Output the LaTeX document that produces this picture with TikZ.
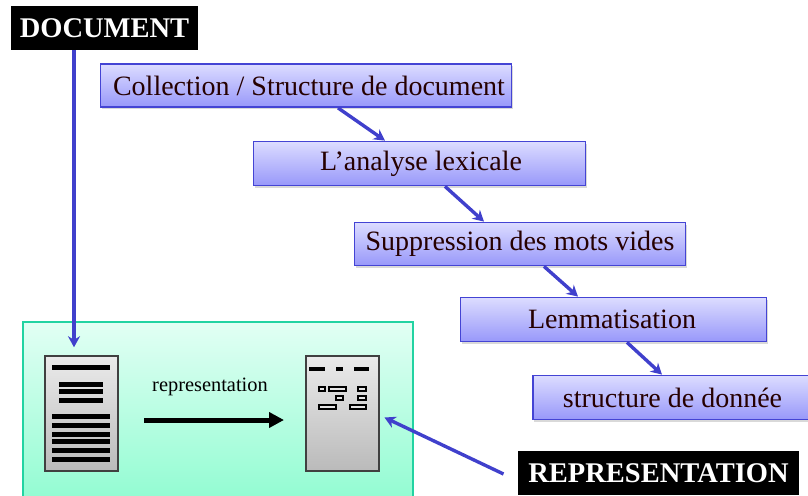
\documentclass[tikz,border=0pt]{standalone}
\usepackage{fontspec}
\setmainfont{Liberation Serif}
\usetikzlibrary{arrows.meta,shadows}
\definecolor{stepline}{HTML}{4444D4}
\definecolor{steptop}{HTML}{DCDCFF}
\definecolor{stepbottom}{HTML}{9898FA}
\definecolor{linkblue}{HTML}{4040CC}
\definecolor{panelline}{HTML}{22D3A2}
\definecolor{paneltop}{HTML}{E2FFF4}
\definecolor{panelbottom}{HTML}{92FCD2}
\tikzset{
	stepbox/.style={draw=stepline,line width=1.8pt,top color=steptop,bottom color=stepbottom,
		inner sep=0pt,font=\fontsize{28}{32}\selectfont,text=black!85!red,
		drop shadow={shadow xshift=1pt,shadow yshift=-2pt,opacity=0.3}},
	titlebox/.style={fill=black,text=white,inner sep=0pt,font=\fontsize{28.5}{32}\selectfont\bfseries},
	pagebox/.style={draw=black!75,line width=1.5pt,top color=black!8,bottom color=black!27,inner sep=0pt,
		minimum width=73pt,minimum height=115pt,
		drop shadow={shadow xshift=1pt,shadow yshift=-1pt,opacity=0.25}},
	link/.style={linkblue,line width=3.4pt,-{Stealth[length=11pt,width=12pt]}},
	bar/.style={black,line width=5pt},
	slot/.style={draw=black,line width=1.3pt,fill=black!10}
}
\begin{document}
\begin{tikzpicture}[x=1pt,y=-1pt]
	\clip (0,0) rectangle (808,495);
	\node[draw=panelline,line width=1.5pt,top color=paneltop,bottom color=panelbottom,inner sep=0pt,
		minimum width=390pt,minimum height=178pt] (panel) at (218,411) {};
	% steps
	\node[stepbox,minimum width=411pt,minimum height=43pt] (coll) at (306,85.5) {\hspace*{6pt}Collection / Structure de document};
	\node[stepbox,minimum width=332pt,minimum height=44pt] (lex) at (419.5,163.5) {\hspace*{3pt}L’analyse lexicale};
	\node[stepbox,minimum width=331pt,minimum height=43pt] (stop) at (520,244) {Suppression des mots vides};
	\node[stepbox,minimum width=306pt,minimum height=44pt] (lemma) at (613.5,319.5) {Lemmatisation\hspace*{3pt}};
	\node[stepbox,minimum width=276pt,minimum height=44pt] (data) at (671,397.5) {\hspace*{3pt}structure de donnée};
	\draw[link] ([xshift=32pt]coll.south) -- ([xshift=-34.5pt]lex.north);
	\draw[link] ([xshift=25.5pt]lex.south) -- ([xshift=-36pt]stop.north);
	\draw[link] ([xshift=24pt]stop.south) -- ([xshift=-35.5pt]lemma.north);
	\draw[link] ([xshift=13.5pt]lemma.south) -- ([xshift=-9pt]data.north);
	% titles
	\node[titlebox,minimum width=187pt,minimum height=44pt] (doc) at (104.5,28) {DOCUMENT};
	\node[titlebox,minimum width=281pt,minimum height=44pt] (rep) at (658.5,473) {REPRESENTATION};
	% pages
	\node[pagebox] (pageA) at (81.5,413.5) {};
	\node[pagebox] (pageB) at (342.5,413.5) {};
	\foreach \y in {367,416,425,434,441,450,459}
		\draw[bar] (52,\y) -- (110,\y);
	\foreach \y in {384,391,400}
		\draw[bar] (59,\y) -- (103,\y);
	\draw[bar,line width=3.5pt] (309,369) -- (325,369);
	\draw[bar,line width=3.5pt] (336,369) -- (343,369);
	\draw[bar,line width=3.5pt] (354,369) -- (369,369);
	\foreach \a/\b/\y in {319/325/389,329/346/389,358/366/389,336/343/398,358/366/398,319/336/407,350/366/407}
		\draw[slot] (\a,\y-2) rectangle (\b,\y+2);
	% representation arrow
	\node[inner sep=0pt,font=\fontsize{20.4}{24}\selectfont] (lbl) at (210,387) {representation};
	\draw[black,line width=5pt,-{Triangle[length=15pt,width=15pt]}] (144,420) -- (284,420);
	% links to the pages
	\draw[link] (doc.south -| 74,0) -- ([xshift=-7.5pt,yshift=8pt]pageA.north);
	\draw[link] ([xshift=-155pt,yshift=-1pt]rep.center) -- ([xshift=42pt,yshift=-4pt]pageB.center);
\end{tikzpicture}
\end{document}
